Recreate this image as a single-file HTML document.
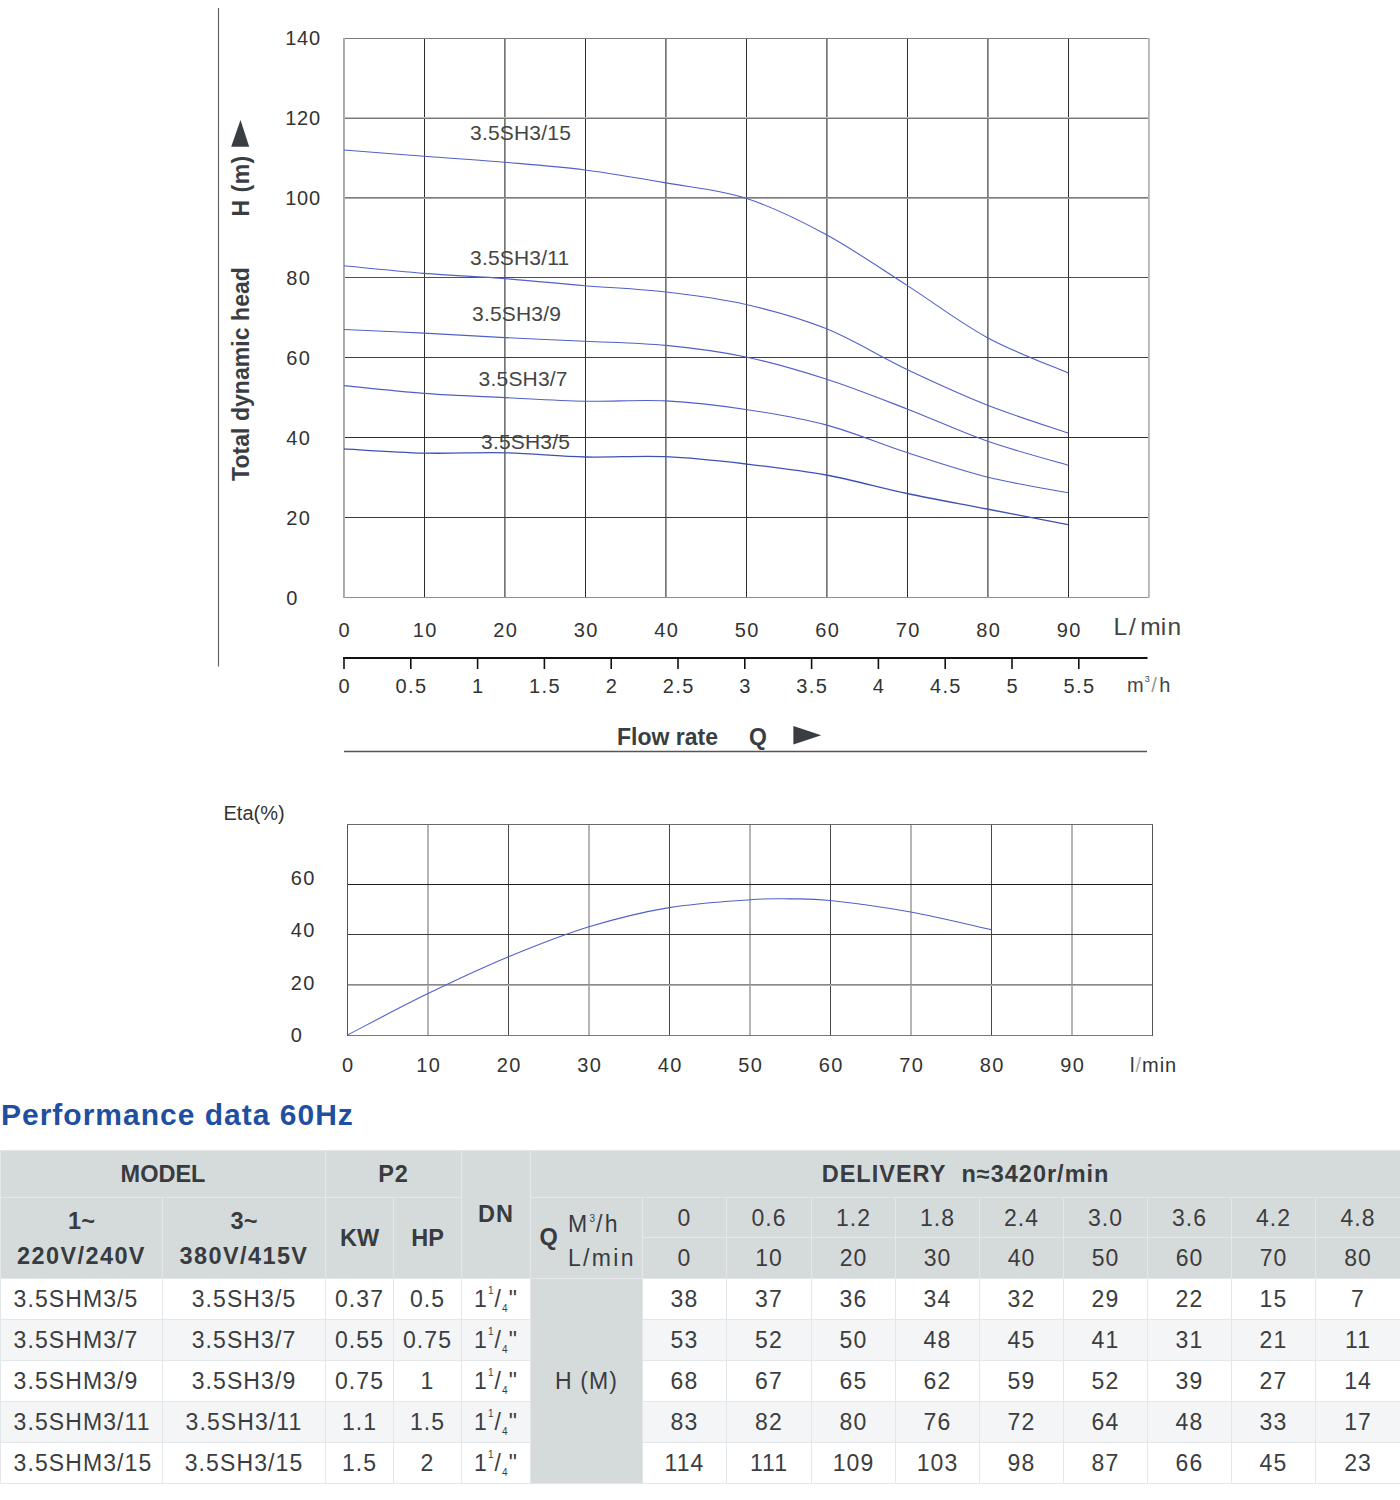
<!DOCTYPE html>
<html><head><meta charset="utf-8"><title>Performance data 60Hz</title>
<style>
*{margin:0;padding:0;box-sizing:border-box}
html,body{width:1400px;height:1500px;background:#fff;overflow:hidden}
body{position:relative;font-family:"Liberation Sans",Arial,sans-serif}
.chart{position:absolute;left:0;top:0}
.ax{font-family:"Liberation Sans",Arial,sans-serif;font-size:20px;fill:#333}
.num{letter-spacing:1.4px}
.ax2{font-family:"Liberation Sans",Arial,sans-serif;font-size:20px;fill:#444}
.unit{font-family:"Liberation Sans",Arial,sans-serif;font-size:24.5px;fill:#444}
.bold{font-family:"Liberation Sans",Arial,sans-serif;font-size:22px;font-weight:bold;fill:#3a3d42}
.cl{font-family:"Liberation Sans",Arial,sans-serif;font-size:21px;fill:#454545;letter-spacing:0.2px}
.title{position:absolute;left:1px;top:1098px;font-size:30px;font-weight:bold;color:#1f4fa0;white-space:nowrap;letter-spacing:1px;line-height:34px}
.perf{position:absolute;left:0;top:1150px;width:1400px;border-collapse:collapse;table-layout:fixed;color:#3b3d40}
.perf th,.perf td{border:1px solid #e3e7ea;text-align:center;vertical-align:middle;white-space:nowrap;padding:0;overflow:visible}
.perf th{font-weight:bold;font-size:23.5px;background:#d5dbdb;color:#383b3f}
.perf tr.h1 th{height:47px}
.perf th.del{letter-spacing:1px}
.perf th.p2,.perf th.dn{letter-spacing:1px}
.perf tr.h2 td,.perf tr.h3 td{background:#d5dbdb;font-size:23px;height:40px;letter-spacing:1px;padding-top:2px}
.perf tr.h3 td{height:41px;padding-top:1.5px}
.perf tr.b td{font-size:23px;height:41px;letter-spacing:1.1px}
.perf tr.odd td{background:#fff}
.perf tr.even td{background:#f3f5f6}
.perf td.m1{text-align:left;padding-left:12.5px;letter-spacing:0.9px}
.perf td.hm{background:#d5dbdb !important;letter-spacing:0.5px}
.vv{position:relative;height:80px}
.vv span{position:absolute;left:0;right:0;text-align:center;line-height:24px}
.vv .t1{top:11px}
.vv .t2{top:46px;letter-spacing:1.4px}
.qc{position:relative;height:80px;font-weight:normal}
.qc span{position:absolute;line-height:24px;white-space:nowrap}
.qc .qq{font-weight:bold;left:8.5px;top:26.5px}
.qc .qm{left:37px;top:13.5px;letter-spacing:2.3px;font-size:23px}
.qc .ql{left:37px;top:48px;letter-spacing:2.3px;font-size:23px}
.qc sup{font-size:10px;vertical-align:top;position:relative;top:-5px;letter-spacing:1px}
td.dnv{letter-spacing:1.6px}
td.dnv sup{font-size:10px;vertical-align:top;position:relative;top:-1px;letter-spacing:1px}
td.dnv sub{font-size:10px;vertical-align:bottom;position:relative;top:1.5px;letter-spacing:1px}
</style></head>
<body>
<svg class="chart" width="1400" height="1100" viewBox="0 0 1400 1100">
<line x1="218.5" y1="8" x2="218.5" y2="666.5" stroke="#666" stroke-width="1.2"/>
<line x1="424.5" y1="38.0" x2="424.5" y2="598.0" stroke="#2d2d2d" stroke-width="1" shape-rendering="crispEdges"/>
<line x1="504.5" y1="38.0" x2="504.5" y2="598.0" stroke="#777" stroke-width="1" shape-rendering="crispEdges"/>
<line x1="505.5" y1="38.0" x2="505.5" y2="598.0" stroke="#9e9e9e" stroke-width="1" shape-rendering="crispEdges"/>
<line x1="585.5" y1="38.0" x2="585.5" y2="598.0" stroke="#2d2d2d" stroke-width="1" shape-rendering="crispEdges"/>
<line x1="665.5" y1="38.0" x2="665.5" y2="598.0" stroke="#777" stroke-width="1" shape-rendering="crispEdges"/>
<line x1="666.5" y1="38.0" x2="666.5" y2="598.0" stroke="#9e9e9e" stroke-width="1" shape-rendering="crispEdges"/>
<line x1="746.5" y1="38.0" x2="746.5" y2="598.0" stroke="#2d2d2d" stroke-width="1" shape-rendering="crispEdges"/>
<line x1="826.5" y1="38.0" x2="826.5" y2="598.0" stroke="#777" stroke-width="1" shape-rendering="crispEdges"/>
<line x1="827.5" y1="38.0" x2="827.5" y2="598.0" stroke="#9e9e9e" stroke-width="1" shape-rendering="crispEdges"/>
<line x1="907.5" y1="38.0" x2="907.5" y2="598.0" stroke="#2d2d2d" stroke-width="1" shape-rendering="crispEdges"/>
<line x1="987.5" y1="38.0" x2="987.5" y2="598.0" stroke="#777" stroke-width="1" shape-rendering="crispEdges"/>
<line x1="988.5" y1="38.0" x2="988.5" y2="598.0" stroke="#9e9e9e" stroke-width="1" shape-rendering="crispEdges"/>
<line x1="1068.5" y1="38.0" x2="1068.5" y2="598.0" stroke="#2d2d2d" stroke-width="1" shape-rendering="crispEdges"/>
<line x1="344.0" y1="117.5" x2="1149.0" y2="117.5" stroke="#bdbdbd" stroke-width="1" shape-rendering="crispEdges"/>
<line x1="344.0" y1="118.5" x2="1149.0" y2="118.5" stroke="#7a7a7a" stroke-width="1" shape-rendering="crispEdges"/>
<line x1="344.0" y1="197.5" x2="1149.0" y2="197.5" stroke="#7a7a7a" stroke-width="1" shape-rendering="crispEdges"/>
<line x1="344.0" y1="198.5" x2="1149.0" y2="198.5" stroke="#a8a8a8" stroke-width="1" shape-rendering="crispEdges"/>
<line x1="344.0" y1="277.5" x2="1149.0" y2="277.5" stroke="#505050" stroke-width="1" shape-rendering="crispEdges"/>
<line x1="344.0" y1="357.5" x2="1149.0" y2="357.5" stroke="#3f3f3f" stroke-width="1" shape-rendering="crispEdges"/>
<line x1="344.0" y1="437.5" x2="1149.0" y2="437.5" stroke="#303030" stroke-width="1" shape-rendering="crispEdges"/>
<line x1="344.0" y1="517.5" x2="1149.0" y2="517.5" stroke="#3a3a3a" stroke-width="1" shape-rendering="crispEdges"/>
<line x1="343.0" y1="38.5" x2="1150.0" y2="38.5" stroke="#7c7c7c" stroke-width="1" shape-rendering="crispEdges"/>
<line x1="343.0" y1="597.5" x2="1150.0" y2="597.5" stroke="#8e8e8e" stroke-width="1" shape-rendering="crispEdges"/>
<line x1="343.5" y1="38.0" x2="343.5" y2="598.0" stroke="#a8a8a8" stroke-width="1" shape-rendering="crispEdges"/>
<line x1="344.5" y1="38.0" x2="344.5" y2="598.0" stroke="#b0b0b0" stroke-width="1" shape-rendering="crispEdges"/>
<line x1="1148.5" y1="38.0" x2="1148.5" y2="598.0" stroke="#b3b3b3" stroke-width="1" shape-rendering="crispEdges"/>
<line x1="1149.5" y1="38.0" x2="1149.5" y2="598.0" stroke="#c4c4c4" stroke-width="1" shape-rendering="crispEdges"/>
<text x="285.2" y="45.3" class="ax num" style="letter-spacing:0.8px">140</text>
<text x="285.2" y="125.3" class="ax num" style="letter-spacing:0.8px">120</text>
<text x="285.2" y="205.3" class="ax num" style="letter-spacing:0.8px">100</text>
<text x="286.3" y="285.3" class="ax num">80</text>
<text x="286.3" y="365.3" class="ax num">60</text>
<text x="286.3" y="445.3" class="ax num">40</text>
<text x="286.3" y="525.3" class="ax num">20</text>
<text x="286.3" y="605.3" class="ax num">0</text>
<text x="344.7" y="636.5" class="ax num" text-anchor="middle">0</text>
<text x="425.2" y="636.5" class="ax num" text-anchor="middle">10</text>
<text x="505.7" y="636.5" class="ax num" text-anchor="middle">20</text>
<text x="586.2" y="636.5" class="ax num" text-anchor="middle">30</text>
<text x="666.7" y="636.5" class="ax num" text-anchor="middle">40</text>
<text x="747.2" y="636.5" class="ax num" text-anchor="middle">50</text>
<text x="827.7" y="636.5" class="ax num" text-anchor="middle">60</text>
<text x="908.2" y="636.5" class="ax num" text-anchor="middle">70</text>
<text x="988.7" y="636.5" class="ax num" text-anchor="middle">80</text>
<text x="1069.2" y="636.5" class="ax num" text-anchor="middle">90</text>
<text x="1113.6" y="635" class="unit">L<tspan dx="1.8">/</tspan><tspan dx="4.5">m</tspan><tspan letter-spacing="1.3">in</tspan></text>
<line x1="343" y1="658" x2="1147.5" y2="658" stroke="#111" stroke-width="2.2"/>
<line x1="344.0" y1="658" x2="344.0" y2="669" stroke="#111" stroke-width="1.6"/>
<text x="344.7" y="693.3" class="ax num" text-anchor="middle">0</text>
<line x1="410.8" y1="658" x2="410.8" y2="669" stroke="#111" stroke-width="1.6"/>
<text x="411.5" y="693.3" class="ax num" text-anchor="middle">0.5</text>
<line x1="477.6" y1="658" x2="477.6" y2="669" stroke="#111" stroke-width="1.6"/>
<text x="478.3" y="693.3" class="ax num" text-anchor="middle">1</text>
<line x1="544.4" y1="658" x2="544.4" y2="669" stroke="#111" stroke-width="1.6"/>
<text x="545.1" y="693.3" class="ax num" text-anchor="middle">1.5</text>
<line x1="611.2" y1="658" x2="611.2" y2="669" stroke="#111" stroke-width="1.6"/>
<text x="611.9" y="693.3" class="ax num" text-anchor="middle">2</text>
<line x1="678.0" y1="658" x2="678.0" y2="669" stroke="#111" stroke-width="1.6"/>
<text x="678.7" y="693.3" class="ax num" text-anchor="middle">2.5</text>
<line x1="744.8" y1="658" x2="744.8" y2="669" stroke="#111" stroke-width="1.6"/>
<text x="745.5" y="693.3" class="ax num" text-anchor="middle">3</text>
<line x1="811.6" y1="658" x2="811.6" y2="669" stroke="#111" stroke-width="1.6"/>
<text x="812.3" y="693.3" class="ax num" text-anchor="middle">3.5</text>
<line x1="878.4" y1="658" x2="878.4" y2="669" stroke="#111" stroke-width="1.6"/>
<text x="879.1" y="693.3" class="ax num" text-anchor="middle">4</text>
<line x1="945.2" y1="658" x2="945.2" y2="669" stroke="#111" stroke-width="1.6"/>
<text x="945.9" y="693.3" class="ax num" text-anchor="middle">4.5</text>
<line x1="1012.0" y1="658" x2="1012.0" y2="669" stroke="#111" stroke-width="1.6"/>
<text x="1012.7" y="693.3" class="ax num" text-anchor="middle">5</text>
<line x1="1078.8" y1="658" x2="1078.8" y2="669" stroke="#111" stroke-width="1.6"/>
<text x="1079.5" y="693.3" class="ax num" text-anchor="middle">5.5</text>
<text x="1127" y="692.3" class="ax2">m<tspan font-size="9" dy="-10" dx="1">3</tspan><tspan dy="10" dx="1.5" fill="#999">/</tspan><tspan dx="2.5">h</tspan></text>
<text x="617" y="744.8" class="bold" style="font-size:23px">Flow rate</text>
<text x="749" y="744.8" class="bold" style="font-size:23px">Q</text>
<polygon points="793.4,726 821.2,735.2 793.4,744.5" fill="#3a3d42"/>
<line x1="344" y1="751.5" x2="1147" y2="751.5" stroke="#555" stroke-width="1.5"/>
<text transform="translate(248.7,481) rotate(-90)" class="bold" style="font-size:23px" letter-spacing="0.05">Total dynamic head</text>
<text transform="translate(248.7,216.5) rotate(-90)" class="bold" style="font-size:23px" letter-spacing="0.5">H (m)</text>
<polygon points="231.2,146.8 249.2,146.8 240.5,120" fill="#3a3d42"/>
<path d="M344.0,150.0 C357.3,151.1 397.2,154.2 424.0,156.3 C450.8,158.4 478.2,160.0 505.0,162.3 C531.8,164.6 558.2,166.6 585.0,170.0 C611.8,173.4 639.2,178.2 666.0,182.9 C692.8,187.6 719.3,189.7 746.0,198.3 C772.7,206.9 799.2,220.0 826.0,234.5 C852.8,249.0 880.2,268.2 907.0,285.4 C933.8,302.5 960.2,322.8 987.0,337.4 C1013.8,352.0 1054.5,367.0 1068.0,372.9" fill="none" stroke="#5060c8" stroke-width="1.1"/>
<path d="M344.0,265.7 C357.3,267.0 397.2,271.2 424.0,273.4 C450.8,275.5 478.2,276.6 505.0,278.6 C531.8,280.7 558.2,283.5 585.0,285.7 C611.8,287.9 639.2,288.9 666.0,292.0 C692.8,295.1 719.3,298.4 746.0,304.5 C772.7,310.6 799.2,317.8 826.0,328.6 C852.8,339.4 880.2,356.8 907.0,369.5 C933.8,382.2 960.2,394.4 987.0,405.0 C1013.8,415.6 1054.5,428.3 1068.0,433.0" fill="none" stroke="#5060c8" stroke-width="1.1"/>
<path d="M344.0,329.5 C357.3,330.1 397.2,331.8 424.0,333.1 C450.8,334.5 478.2,336.2 505.0,337.6 C531.8,339.0 558.2,339.9 585.0,341.2 C611.8,342.5 639.2,342.8 666.0,345.4 C692.8,348.0 719.3,351.4 746.0,357.0 C772.7,362.6 799.2,370.4 826.0,379.0 C852.8,387.6 880.2,398.6 907.0,408.9 C933.8,419.2 960.2,431.6 987.0,441.0 C1013.8,450.4 1054.5,461.2 1068.0,465.2" fill="none" stroke="#5060c8" stroke-width="1.1"/>
<path d="M344.0,385.6 C357.3,386.9 397.2,391.4 424.0,393.4 C450.8,395.4 478.2,396.3 505.0,397.6 C531.8,398.9 558.2,400.6 585.0,401.2 C611.8,401.8 639.2,399.5 666.0,400.9 C692.8,402.3 719.3,405.5 746.0,409.5 C772.7,413.5 799.2,417.7 826.0,424.9 C852.8,432.1 880.2,443.9 907.0,452.6 C933.8,461.3 960.2,470.3 987.0,477.0 C1013.8,483.7 1054.5,490.1 1068.0,492.7" fill="none" stroke="#5060c8" stroke-width="1.1"/>
<path d="M344.0,448.9 C357.3,449.6 397.2,452.5 424.0,453.1 C450.8,453.8 478.2,452.2 505.0,452.8 C531.8,453.4 558.2,456.4 585.0,457.0 C611.8,457.6 639.2,455.5 666.0,456.7 C692.8,457.9 719.3,460.9 746.0,464.0 C772.7,467.1 799.2,470.1 826.0,475.0 C852.8,479.9 880.2,487.8 907.0,493.5 C933.8,499.2 960.2,503.8 987.0,509.0 C1013.8,514.2 1054.5,522.0 1068.0,524.6" fill="none" stroke="#3f52b4" stroke-width="1.3"/>
<text x="470.0" y="140.3" class="cl">3.5SH3/15</text>
<text x="470.0" y="264.9" class="cl">3.5SH3/11</text>
<text x="472.0" y="320.9" class="cl">3.5SH3/9</text>
<text x="478.6" y="385.6" class="cl">3.5SH3/7</text>
<text x="481.0" y="448.9" class="cl">3.5SH3/5</text>
<text x="223.5" y="820" class="ax eta">Eta(%)</text>
<line x1="427.5" y1="825.0" x2="427.5" y2="1035.0" stroke="#b5b5b5" stroke-width="1" shape-rendering="crispEdges"/>
<line x1="428.5" y1="825.0" x2="428.5" y2="1035.0" stroke="#b5b5b5" stroke-width="1" shape-rendering="crispEdges"/>
<line x1="508.5" y1="825.0" x2="508.5" y2="1035.0" stroke="#484848" stroke-width="1" shape-rendering="crispEdges"/>
<line x1="588.5" y1="825.0" x2="588.5" y2="1035.0" stroke="#b5b5b5" stroke-width="1" shape-rendering="crispEdges"/>
<line x1="589.5" y1="825.0" x2="589.5" y2="1035.0" stroke="#b5b5b5" stroke-width="1" shape-rendering="crispEdges"/>
<line x1="669.5" y1="825.0" x2="669.5" y2="1035.0" stroke="#484848" stroke-width="1" shape-rendering="crispEdges"/>
<line x1="749.5" y1="825.0" x2="749.5" y2="1035.0" stroke="#b5b5b5" stroke-width="1" shape-rendering="crispEdges"/>
<line x1="750.5" y1="825.0" x2="750.5" y2="1035.0" stroke="#b5b5b5" stroke-width="1" shape-rendering="crispEdges"/>
<line x1="830.5" y1="825.0" x2="830.5" y2="1035.0" stroke="#484848" stroke-width="1" shape-rendering="crispEdges"/>
<line x1="910.5" y1="825.0" x2="910.5" y2="1035.0" stroke="#b5b5b5" stroke-width="1" shape-rendering="crispEdges"/>
<line x1="911.5" y1="825.0" x2="911.5" y2="1035.0" stroke="#b5b5b5" stroke-width="1" shape-rendering="crispEdges"/>
<line x1="991.5" y1="825.0" x2="991.5" y2="1035.0" stroke="#484848" stroke-width="1" shape-rendering="crispEdges"/>
<line x1="1071.5" y1="825.0" x2="1071.5" y2="1035.0" stroke="#b5b5b5" stroke-width="1" shape-rendering="crispEdges"/>
<line x1="1072.5" y1="825.0" x2="1072.5" y2="1035.0" stroke="#b5b5b5" stroke-width="1" shape-rendering="crispEdges"/>
<line x1="347.0" y1="884.5" x2="1153.0" y2="884.5" stroke="#1e1e1e" stroke-width="1" shape-rendering="crispEdges"/>
<line x1="347.0" y1="934.5" x2="1153.0" y2="934.5" stroke="#3a3a3a" stroke-width="1" shape-rendering="crispEdges"/>
<line x1="347.0" y1="984.5" x2="1153.0" y2="984.5" stroke="#8a8a8a" stroke-width="1" shape-rendering="crispEdges"/>
<line x1="347.0" y1="985.5" x2="1153.0" y2="985.5" stroke="#b0b0b0" stroke-width="1" shape-rendering="crispEdges"/>
<line x1="347.0" y1="824.5" x2="1153.0" y2="824.5" stroke="#6a6a6a" stroke-width="1" shape-rendering="crispEdges"/>
<line x1="347.0" y1="1035.5" x2="1153.0" y2="1035.5" stroke="#777" stroke-width="1" shape-rendering="crispEdges"/>
<line x1="347.5" y1="825.0" x2="347.5" y2="1036.0" stroke="#555" stroke-width="1" shape-rendering="crispEdges"/>
<line x1="1152.5" y1="825.0" x2="1152.5" y2="1036.0" stroke="#555" stroke-width="1" shape-rendering="crispEdges"/>
<text x="290.8" y="884.9" class="ax num">60</text>
<text x="290.8" y="937.4" class="ax num">40</text>
<text x="290.8" y="990.2" class="ax num">20</text>
<text x="290.8" y="1041.7" class="ax num">0</text>
<text x="348.2" y="1071.5" class="ax num" text-anchor="middle">0</text>
<text x="428.7" y="1071.5" class="ax num" text-anchor="middle">10</text>
<text x="509.2" y="1071.5" class="ax num" text-anchor="middle">20</text>
<text x="589.7" y="1071.5" class="ax num" text-anchor="middle">30</text>
<text x="670.2" y="1071.5" class="ax num" text-anchor="middle">40</text>
<text x="750.7" y="1071.5" class="ax num" text-anchor="middle">50</text>
<text x="831.2" y="1071.5" class="ax num" text-anchor="middle">60</text>
<text x="911.7" y="1071.5" class="ax num" text-anchor="middle">70</text>
<text x="992.2" y="1071.5" class="ax num" text-anchor="middle">80</text>
<text x="1072.7" y="1071.5" class="ax num" text-anchor="middle">90</text>
<text x="1130" y="1071.5" class="ax" letter-spacing="1">l<tspan fill="#aaa">/</tspan>min</text>
<path d="M347.5,1035.0 C360.9,1028.1 401.1,1006.6 428.0,993.6 C454.9,980.6 481.8,967.9 508.6,956.8 C535.4,945.7 562.3,935.0 589.0,926.8 C615.7,918.6 642.2,912.1 669.0,907.6 C695.8,903.1 729.8,901.2 750.0,899.7 C770.2,898.2 776.7,898.8 790.0,898.9 C803.3,899.0 809.9,898.3 830.0,900.5 C850.1,902.7 883.9,907.1 910.7,912.0 C937.5,916.9 977.6,926.7 991.0,929.6" fill="none" stroke="#5060c8" stroke-width="1.1"/>
</svg>
<div class="title">Performance data 60Hz</div>
<table class="perf"><colgroup><col style="width:162px"><col style="width:163px"><col style="width:68px"><col style="width:68px"><col style="width:69px"><col style="width:112px"><col style="width:84px"><col style="width:85px"><col style="width:84px"><col style="width:84px"><col style="width:84px"><col style="width:84px"><col style="width:84px"><col style="width:84px"><col style="width:85px"></colgroup>
<tr class="h1"><th colspan="2" class="mod">MODEL</th><th colspan="2" class="p2">P2</th><th rowspan="3" class="dn">DN</th><th colspan="10" class="del">DELIVERY&nbsp;&nbsp;n≈3420r/min</th></tr>
<tr class="h2"><th rowspan="2" class="v"><div class="vv"><span class="t1">1~</span><span class="t2">220V/240V</span></div></th><th rowspan="2" class="v"><div class="vv"><span class="t1">3~</span><span class="t2">380V/415V</span></div></th><th rowspan="2" class="kw">KW</th><th rowspan="2" class="hp">HP</th><th rowspan="2" class="q"><div class="qc"><span class="qq">Q</span><span class="qm">M<sup>3</sup>/h</span><span class="ql">L/min</span></div></th><td>0</td><td>0.6</td><td>1.2</td><td>1.8</td><td>2.4</td><td>3.0</td><td>3.6</td><td>4.2</td><td>4.8</td></tr>
<tr class="h3"><td>0</td><td>10</td><td>20</td><td>30</td><td>40</td><td>50</td><td>60</td><td>70</td><td>80</td></tr>
<tr class="b odd"><td class="m1">3.5SHM3/5</td><td>3.5SH3/5</td><td>0.37</td><td>0.5</td><td class="dnv">1<sup>1</sup>/<sub>4</sub>"</td><td rowspan="5" class="hm">H (M)</td><td>38</td><td>37</td><td>36</td><td>34</td><td>32</td><td>29</td><td>22</td><td>15</td><td>7</td></tr>
<tr class="b even"><td class="m1">3.5SHM3/7</td><td>3.5SH3/7</td><td>0.55</td><td>0.75</td><td class="dnv">1<sup>1</sup>/<sub>4</sub>"</td><td>53</td><td>52</td><td>50</td><td>48</td><td>45</td><td>41</td><td>31</td><td>21</td><td>11</td></tr>
<tr class="b odd"><td class="m1">3.5SHM3/9</td><td>3.5SH3/9</td><td>0.75</td><td>1</td><td class="dnv">1<sup>1</sup>/<sub>4</sub>"</td><td>68</td><td>67</td><td>65</td><td>62</td><td>59</td><td>52</td><td>39</td><td>27</td><td>14</td></tr>
<tr class="b even"><td class="m1">3.5SHM3/11</td><td>3.5SH3/11</td><td>1.1</td><td>1.5</td><td class="dnv">1<sup>1</sup>/<sub>4</sub>"</td><td>83</td><td>82</td><td>80</td><td>76</td><td>72</td><td>64</td><td>48</td><td>33</td><td>17</td></tr>
<tr class="b odd"><td class="m1">3.5SHM3/15</td><td>3.5SH3/15</td><td>1.5</td><td>2</td><td class="dnv">1<sup>1</sup>/<sub>4</sub>"</td><td>114</td><td>111</td><td>109</td><td>103</td><td>98</td><td>87</td><td>66</td><td>45</td><td>23</td></tr>
</table>
</body></html>
